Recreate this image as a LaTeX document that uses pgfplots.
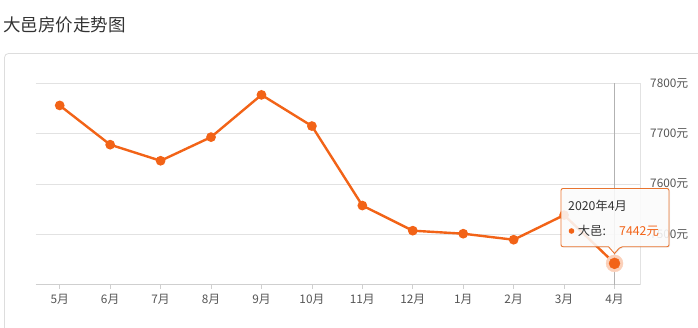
\documentclass[border=0pt]{standalone}
\usepackage{fontspec}
\setmainfont{Noto Sans CJK SC}
\usepackage{pgfplots}
\pgfplotsset{compat=1.18}
\usetikzlibrary{shadows}
\definecolor{lc}{HTML}{F26317}
\definecolor{gridc}{HTML}{E2E2E2}
\definecolor{axc}{HTML}{CFCFCF}
\definecolor{txt}{HTML}{555555}
\definecolor{boxc}{HTML}{DDDDDD}
\definecolor{ttb}{HTML}{E8742F}
\begin{document}
\begin{tikzpicture}[x=1pt,y=1pt]
\useasboundingbox (0,0) rectangle (698,327);
\clip (0,0) rectangle (698,327);
% outer container
\draw[boxc, line width=0.8pt, rounded corners=4pt] (4.5,273.5) rectangle (760,-30);
% title
\node[anchor=west, inner sep=0pt, text=black!80] at (3,302.5) {\fontsize{17.5}{20}\selectfont 大邑房价走势图};
\begin{axis}[
  scale only axis,
  width=604.5pt, height=201.2pt,
  at={(35.5pt,42.5pt)}, anchor=south west,
  xmin=-0.48, xmax=11.505,
  ymin=7400, ymax=7800,
  axis x line*=bottom,
  axis y line*=right,
  x axis line style={draw=axc, line width=1.8pt, -},
  y axis line style={draw=gridc, line width=0.8pt, -},
  xtick={0,1,2,3,4,5,6,7,8,9,10,11},
  xticklabels={5月,6月,7月,8月,9月,10月,11月,12月,1月,2月,3月,4月},
  xtick align=outside,
  major tick length=4pt,
  x tick style={draw=axc, line width=0.8pt},
  ytick={7500,7600,7700,7800},
  yticklabels={7500元,7600元,7700元,7800元},
  y tick style={draw=none},
  ymajorgrids,
  grid style={draw=gridc, line width=0.8pt},
  tick label style={font=\fontsize{11.8}{13}\selectfont, text=txt},
  xticklabel style={anchor=center, inner sep=0pt, yshift=-11pt},
  yticklabel style={anchor=west, inner sep=0pt, xshift=10pt},
  clip=false,
]
\draw[gray!60, line width=0.8pt] (axis cs:11,7400) -- (axis cs:11,7800);
\addplot[lc, line width=2.4pt, mark=*, mark size=3.6pt, mark options={fill=lc, draw=none, solid}] coordinates {
(0,7756) (1,7678) (2,7646) (3,7693) (4,7777) (5,7715) (6,7557) (7,7507) (8,7501) (9,7489) (10,7538) (11,7442)
};
\addplot[lc!30, only marks, mark=*, mark size=8.5pt, mark options={fill=lc!30, draw=none}] coordinates {(11,7442)};
\addplot[lc, only marks, mark=*, mark size=5.5pt, mark options={fill=lc, draw=none}] coordinates {(11,7442)};
\end{axis}
% tooltip
\draw[ttb, line width=0.9pt, fill=white, fill opacity=0.85, rounded corners=2pt,
  drop shadow={opacity=0.15, shadow xshift=1pt, shadow yshift=-1pt}]
  (561,138.5) -- (669,138.5) -- (669,80.3) -- (620.5,80.3) [sharp corners] -- (614.5,73.5) -- (608.5,80.3) [rounded corners=2pt] -- (561,80.3) -- cycle;
\node[anchor=west, inner sep=0pt, text=black!80] at (568,121.3) {\fontsize{12.3}{14}\selectfont 2020年4月};
\fill[lc] (571.5,96) circle (2.8pt);
\node[anchor=west, inner sep=0pt, text=black!80] at (577.7,96) {\fontsize{12.3}{14}\selectfont 大邑:};
\node[anchor=west, inner sep=0pt, text=lc] at (619,96) {\fontsize{12.3}{14}\selectfont 7442元};
\end{tikzpicture}
\end{document}
